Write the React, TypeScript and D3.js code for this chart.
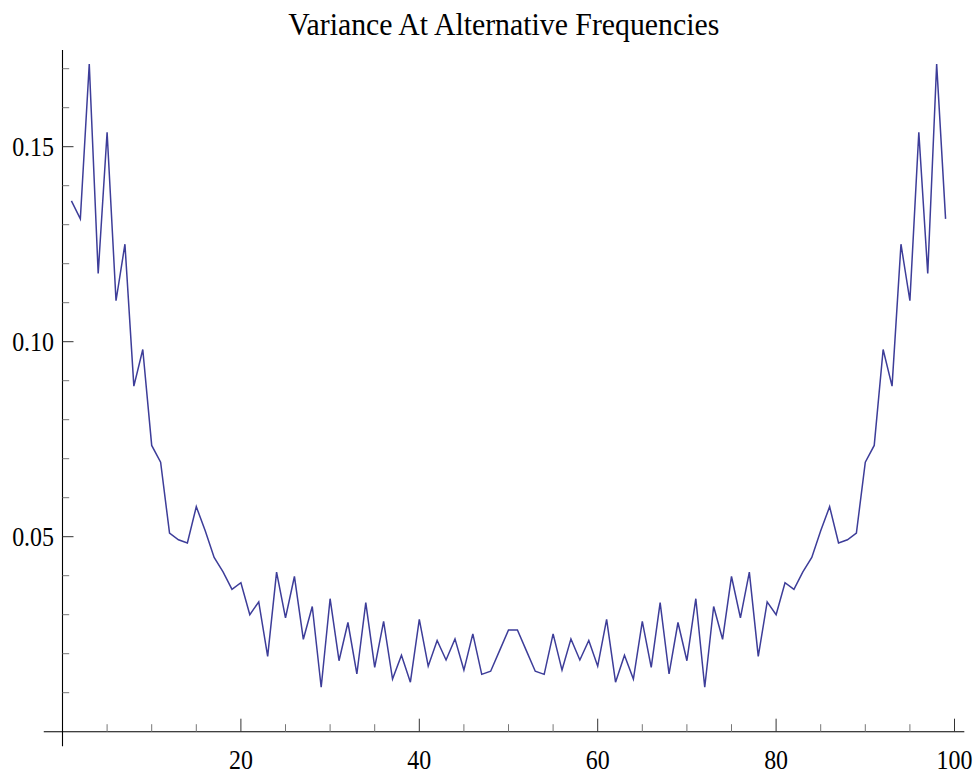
import React from 'react';
import * as d3 from 'd3';

const title = 'Variance At Alternative Frequencies';

const frequencies = d3.range(1, 100);

const variance = [
  0.1361, 0.1315, 0.1712, 0.1175, 0.1537, 0.1105, 0.1250, 0.0886, 0.0980, 0.0734,
  0.0691, 0.0509, 0.0492, 0.0484, 0.0577, 0.0515, 0.0447, 0.0410, 0.0365, 0.0382,
  0.0300, 0.0333, 0.0193, 0.0409, 0.0292, 0.0398, 0.0237, 0.0321, 0.0114, 0.0341,
  0.0182, 0.0280, 0.0148, 0.0331, 0.0165, 0.0283, 0.0135, 0.0196, 0.0127, 0.0288,
  0.0168, 0.0234, 0.0184, 0.0238, 0.0158, 0.0251, 0.0147, 0.0155, 0.0208, 0.0261,
  0.0261, 0.0208, 0.0155, 0.0147, 0.0251, 0.0158, 0.0238, 0.0184, 0.0234, 0.0168,
  0.0288, 0.0127, 0.0196, 0.0135, 0.0283, 0.0165, 0.0331, 0.0148, 0.0280, 0.0182,
  0.0341, 0.0114, 0.0321, 0.0237, 0.0398, 0.0292, 0.0409, 0.0193, 0.0333, 0.0300,
  0.0382, 0.0365, 0.0410, 0.0447, 0.0515, 0.0577, 0.0484, 0.0492, 0.0509, 0.0691,
  0.0734, 0.0980, 0.0886, 0.1250, 0.1105, 0.1537, 0.1175, 0.1712, 0.1315,
];

const xMajorTicks = [20, 40, 60, 80, 100];
const xMajorLabels = ['20', '40', '60', '80', '100'];
const xMinorTicks = [5, 10, 15, 25, 30, 35, 45, 50, 55, 65, 70, 75, 85, 90, 95];
const yMajorTicks = [0.05, 0.1, 0.15];
const yMajorLabels = ['0.05', '0.10', '0.15'];
const yMinorTicks = [0.01, 0.02, 0.03, 0.04, 0.06, 0.07, 0.08, 0.09, 0.11, 0.12, 0.13, 0.14, 0.16, 0.17];

const W = 975;
const H = 774;
const FONT = '"Liberation Serif", "Times New Roman", Times, serif';

export default function App() {
  const x = d3.scaleLinear().domain([0, 100]).range([62.5, 954.5]);
  const y = d3.scaleLinear().domain([0, 0.17]).range([731.7, 68.7]);

  const data = frequencies.map((f, i) => [f, variance[i]] as [number, number]);
  const line = d3
    .line<[number, number]>()
    .x((d) => x(d[0]))
    .y((d) => y(d[1]));

  const x0 = x(0);
  const y0 = y(0);
  const labelScale = 0.87;

  return (
    <svg
      width={W}
      height={H}
      viewBox={`0 0 ${W} ${H}`}
      style={{ position: 'absolute', left: 0, top: 0, background: '#fff' }}
    >
      <rect x={0} y={0} width={W} height={H} fill="#fff" />
      <text
        x={503.8}
        y={34.5}
        textAnchor="middle"
        fontFamily={FONT}
        fontSize={32}
        textLength={431}
        lengthAdjust="spacingAndGlyphs"
        fill="#000"
      >
        {title}
      </text>

      {/* axes lines */}
      <line x1={x(-2.1)} x2={x(101.1)} y1={y0} y2={y0} stroke="#000" strokeWidth={1.1} />
      <line x1={x0} x2={x0} y1={y(-0.0037)} y2={y(0.1748)} stroke="#000" strokeWidth={1.1} />

      {/* x ticks */}
      {xMinorTicks.map((t) => (
        <line key={'xm' + t} x1={x(t)} x2={x(t)} y1={y0} y2={y0 - 7.5} stroke="#777" strokeWidth={1} />
      ))}
      {xMajorTicks.map((t) => (
        <line key={'xM' + t} x1={x(t)} x2={x(t)} y1={y0} y2={y0 - 13} stroke="#333" strokeWidth={1} />
      ))}
      {xMajorTicks.map((t, i) => (
        <g key={'xl' + t} transform={`translate(${x(t)},769) scale(${labelScale},1)`}>
          <text x={0} y={0} textAnchor="middle" fontFamily={FONT} fontSize={27.5} fill="#000">
            {xMajorLabels[i]}
          </text>
        </g>
      ))}

      {/* y ticks */}
      {yMinorTicks.map((t) => (
        <line key={'ym' + t} x1={x0} x2={x0 + 6.7} y1={y(t)} y2={y(t)} stroke="#777" strokeWidth={1} />
      ))}
      {yMajorTicks.map((t) => (
        <line key={'yM' + t} x1={x0} x2={x0 + 11} y1={y(t)} y2={y(t)} stroke="#333" strokeWidth={1} />
      ))}
      {yMajorTicks.map((t, i) => (
        <g key={'yl' + t} transform={`translate(54,${y(t) + 9.5}) scale(${labelScale},1)`}>
          <text x={0} y={0} textAnchor="end" fontFamily={FONT} fontSize={27.5} fill="#000">
            {yMajorLabels[i]}
          </text>
        </g>
      ))}

      <path d={line(data) || ''} fill="none" stroke="#3d3d99" strokeWidth={1.5} strokeLinejoin="miter" />
    </svg>
  );
}
